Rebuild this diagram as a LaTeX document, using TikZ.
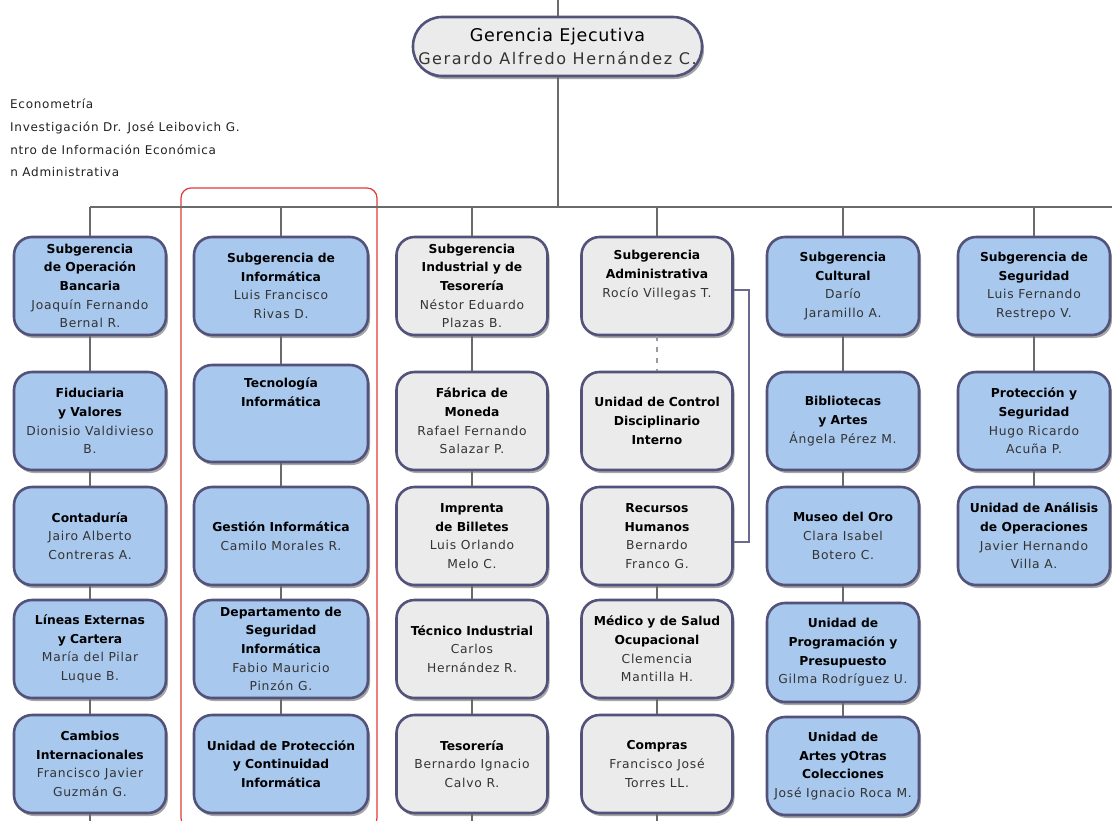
\documentclass[tikz,border=0pt]{standalone}
\usepackage{fontspec}
\setmainfont{DejaVu Sans}
\newfontfamily\namefont[LetterSpace=6]{DejaVu Sans}
\newfontfamily\headtitlefont[LetterSpace=4]{DejaVu Sans}
\newfontfamily\headnamefont[LetterSpace=10]{DejaVu Sans}
\usetikzlibrary{shadows}

\definecolor{boxblue}{HTML}{A8C8EE}
\definecolor{boxgray}{HTML}{EBEBEB}
\definecolor{boxedge}{HTML}{52527A}
\definecolor{linkgray}{HTML}{6A6A6A}
\definecolor{dotgray}{HTML}{9A9A9A}
\definecolor{bracketblue}{HTML}{6A6A90}
\definecolor{namegray}{HTML}{333333}
\definecolor{sidetext}{HTML}{222222}
\definecolor{framered}{HTML}{E23A3A}

\newcommand{\nm}[1]{{\namefont\mdseries\color{namegray}#1}}

\tikzset{
  unit/.style={draw=boxedge, line width=2.6pt, rounded corners=18pt,
    minimum width=151pt, minimum height=98pt, inner sep=0pt, align=center,
    font=\fontsize{12.3}{18.7}\selectfont\bfseries, text=black,
    drop shadow={shadow xshift=2pt, shadow yshift=-3pt, opacity=0.35, fill=black}},
  blueunit/.style={unit, fill=boxblue},
  grayunit/.style={unit, fill=boxgray},
  link/.style={draw=linkgray, line width=2pt},
  sideline/.style={anchor=base west, inner sep=0pt, text=sidetext,
    font=\fontsize{12}{14}\namefont},
}

\begin{document}
\begin{tikzpicture}[x=1pt,y=-1pt]
\useasboundingbox[fill=white] (0,0) rectangle (1112,820);

% side list of units, cut at the left edge
\begin{scope}
  \clip (9,90) rectangle (320,185);
  \node[sideline] (s1) at (10,108) {Econometría};
  \node[sideline] (s2) at (10,131) {Investigación Dr. José Leibovich G.};
  \node[sideline] (s3) at (-7,154) {Centro de Información Económica};
  \node[sideline] (s4) at (-2,176) {ión Administrativa};
\end{scope}

% highlight frame around the IT branch
\draw[framered, line width=1.2pt, rounded corners=10pt] (181,188) rectangle (377,828);

% head office
\node[draw=boxedge, line width=2.6pt, fill=boxgray, rounded corners=29pt,
  minimum width=289pt, minimum height=59pt, inner sep=0pt, align=center,
  font=\fontsize{17}{22.5}\selectfont,
  drop shadow={shadow xshift=2pt, shadow yshift=-3pt, opacity=0.35, fill=black}]
  (ge) at (557.5,46.5)
  {{\fontsize{17.5}{22.5}\headtitlefont Gerencia Ejecutiva}\\
   {\fontsize{16}{22.5}\headnamefont\color{namegray}Gerardo Alfredo Hernández C.}};

% column 1
\node[blueunit, minimum width=152pt] (c1a) at (90,286) {Subgerencia\\de Operación\\Bancaria\\\nm{Joaquín Fernando}\\\nm{Bernal R.}};
\node[blueunit, minimum width=152pt] (c1b) at (90,421) {Fiduciaria\\y Valores\\\nm{Dionisio Valdivieso}\\\nm{B.}};
\node[blueunit, minimum width=152pt] (c1c) at (90,536) {Contaduría\\\nm{Jairo Alberto}\\\nm{Contreras A.}};
\node[blueunit, minimum width=152pt] (c1d) at (90,649) {Líneas Externas\\y Cartera\\\nm{María del Pilar}\\\nm{Luque B.}};
\node[blueunit, minimum width=152pt] (c1e) at (90,764) {Cambios\\Internacionales\\\nm{Francisco Javier}\\\nm{Guzmán G.}};

% column 2
\node[blueunit, minimum width=174pt] (c2a) at (281,286) {Subgerencia de\\Informática\\\nm{Luis Francisco}\\\nm{Rivas D.}};
\node[blueunit, minimum width=174pt, minimum height=97pt] (c2b) at (281,413.5) {Tecnología\\Informática\\\strut\\\strut};
\node[blueunit, minimum width=174pt] (c2c) at (281,536) {Gestión Informática\\\nm{Camilo Morales R.}};
\node[blueunit, minimum width=174pt] (c2d) at (281,649) {Departamento de\\Seguridad\\Informática\\\nm{Fabio Mauricio}\\\nm{Pinzón G.}};
\node[blueunit, minimum width=174pt] (c2e) at (281,764) {Unidad de Protección\\y Continuidad\\Informática};

% column 3
\node[grayunit] (c3a) at (472,286) {Subgerencia\\Industrial y de\\Tesorería\\\nm{Néstor Eduardo}\\\nm{Plazas B.}};
\node[grayunit] (c3b) at (472,421) {Fábrica de\\Moneda\\\nm{Rafael Fernando}\\\nm{Salazar P.}};
\node[grayunit] (c3c) at (472,536) {Imprenta\\de Billetes\\\nm{Luis Orlando}\\\nm{Melo C.}};
\node[grayunit] (c3d) at (472,649) {Técnico Industrial\\\nm{Carlos}\\\nm{Hernández R.}};
\node[grayunit] (c3e) at (472,764) {Tesorería\\\nm{Bernardo Ignacio}\\\nm{Calvo R.}};

% column 4
\node[grayunit] (c4a) at (657,286) {Subgerencia\\Administrativa\\\nm{Rocío Villegas T.}\\\strut};
\node[grayunit] (c4b) at (657,421) {Unidad de Control\\Disciplinario\\Interno};
\node[grayunit] (c4c) at (657,536) {Recursos\\Humanos\\\nm{Bernardo}\\\nm{Franco G.}};
\node[grayunit] (c4d) at (657,649) {Médico y de Salud\\Ocupacional\\\nm{Clemencia}\\\nm{Mantilla H.}};
\node[grayunit] (c4e) at (657,764) {Compras\\\nm{Francisco José}\\\nm{Torres LL.}};

% column 5
\node[blueunit, minimum width=152pt] (c5a) at (843,286) {Subgerencia\\Cultural\\\nm{Darío}\\\nm{Jaramillo A.}};
\node[blueunit, minimum width=152pt] (c5b) at (843,421) {Bibliotecas\\y Artes\\\nm{Ángela Pérez M.}};
\node[blueunit, minimum width=152pt] (c5c) at (843,536) {Museo del Oro\\\nm{Clara Isabel}\\\nm{Botero C.}};
\node[blueunit, minimum width=152pt, minimum height=99pt] (c5d) at (843,652.5) {Unidad de\\Programación y\\Presupuesto\\\nm{Gilma Rodríguez U.}};
\node[blueunit, minimum width=152pt] (c5e) at (843,766) {Unidad de\\Artes yOtras\\Colecciones\\\nm{José Ignacio Roca M.}};

% column 6
\node[blueunit, minimum width=152pt] (c6a) at (1034,286) {Subgerencia de\\Seguridad\\\nm{Luis Fernando}\\\nm{Restrepo V.}};
\node[blueunit, minimum width=152pt] (c6b) at (1034,421) {Protección y\\Seguridad\\\nm{Hugo Ricardo}\\\nm{Acuña P.}};
\node[blueunit, minimum width=152pt] (c6c) at (1034,536) {Unidad de Análisis\\de Operaciones\\\nm{Javier Hernando}\\\nm{Villa A.}};

% reference points for the bus and open line ends
\coordinate (busy) at (0,207);
\coordinate (busR) at (1112,207);
\coordinate (topin) at (557.5,0);
\coordinate (c1end) at (90,830);
\coordinate (c3end) at (472,830);
\coordinate (c4end) at (657,830);

% connectors
\draw[link] (topin) -- (ge.north);
\draw[link] (ge.south) -- (ge.south |- busy);
\draw[link] (c1a.north |- busy) -- (busR);
\foreach \n in {c1a,c2a,c3a,c4a,c5a,c6a}
  \draw[link] (\n.north) -- (\n.north |- busy);
\draw[link] (c1a) -- (c1b) (c1b) -- (c1c) (c1c) -- (c1d) (c1d) -- (c1e);
\draw[link] (c1e.south) -- (c1end);
\draw[link] (c2a) -- (c2b) (c2b) -- (c2c) (c2c) -- (c2d) (c2d) -- (c2e);
\draw[link] (c3a) -- (c3b) (c3b) -- (c3c) (c3c) -- (c3d) (c3d) -- (c3e);
\draw[link] (c3e.south) -- (c3end);
\draw[draw=dotgray, line width=2pt, dash pattern=on 5pt off 6pt] (c4a.south) -- (c4b.north);
\draw[draw=bracketblue, line width=2pt] ([yshift=-4pt]c4a.east) -- ++(15,0) |- ([yshift=-6pt]c4c.east);
\draw[link] (c4c) -- (c4d) (c4d) -- (c4e);
\draw[link] (c4e.south) -- (c4end);
\draw[link] (c5a) -- (c5b) (c5b) -- (c5c) (c5c) -- (c5d) (c5d) -- (c5e);
\draw[link] (c6a) -- (c6b) (c6b) -- (c6c);
\end{tikzpicture}
\end{document}
